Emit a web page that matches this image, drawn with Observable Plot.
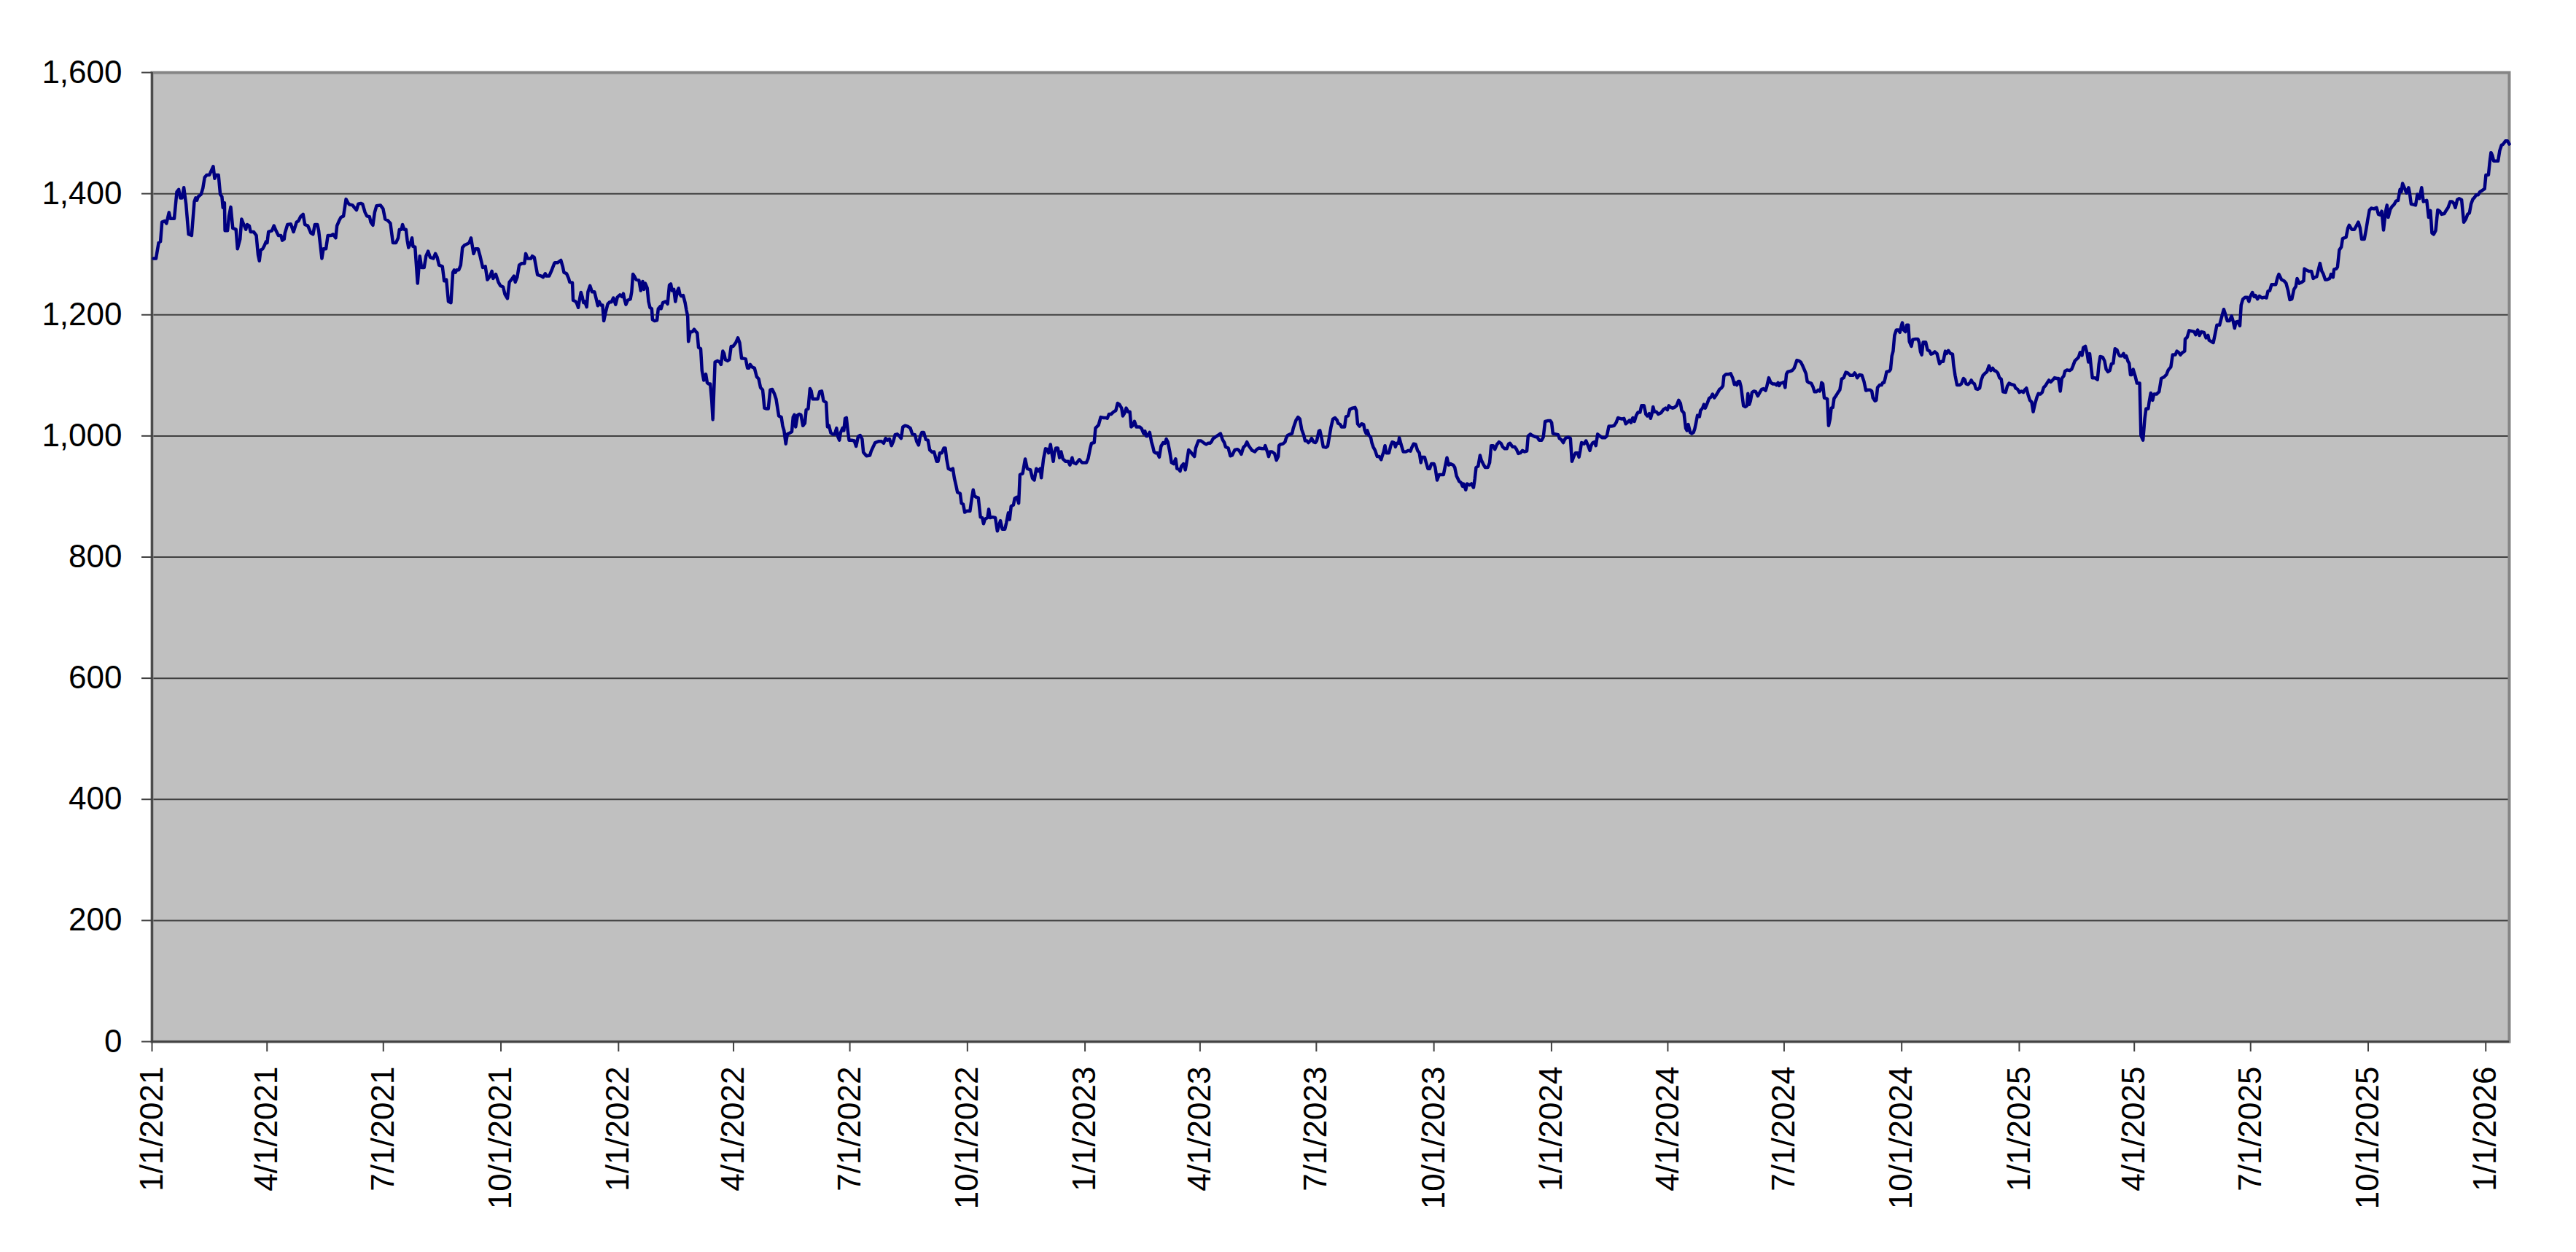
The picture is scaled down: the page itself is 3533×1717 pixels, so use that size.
<!DOCTYPE html>
<html>
<head>
<meta charset="utf-8">
<script src="https://cdn.jsdelivr.net/npm/d3@7"></script>
<script src="https://cdn.jsdelivr.net/npm/@observablehq/plot@0.6"></script>
<style>
  html, body { margin: 0; padding: 0; background: #ffffff; overflow: hidden; }
  #chart svg { display: block; }
</style>
</head>
<body>
<div id="chart"></div>
<script>
// Index level readings: [days since 1/1/2021, value]
const jan2021ToNov2021 = [
[1.1,1293],[3.1,1293],[5.2,1319],[6.6,1321],[7.8,1353],[9.9,1355],[11.3,1351],[13.3,1369],[14.3,1359],[17.4,1359],
[19.4,1403],[20.9,1407],[22.1,1393],[23.5,1393],[24.9,1410],[26.6,1383],[28.6,1333],[31.0,1331],[33.1,1387],[34.1,1393],
[35.1,1389],[36.1,1395],[38.4,1399],[39.8,1409],[41.2,1427],[42.9,1431],[44.9,1431],[47.9,1445],[49,1425],[50,1431],
[52,1431],[53.4,1399],[54.7,1395],[55.5,1377],[56.7,1385],[57.1,1339],[59.1,1339],[60.2,1363],[61.6,1378],[63.2,1343],
[65.7,1341],[66.9,1309],[68.9,1325],[70.1,1358],[71.8,1349],[73.4,1341],[74.4,1349],[76.1,1347],[77.1,1337],[79.5,1337],
[81.6,1331],[83,1299],[84,1289],[85,1307],[86.6,1309],[88.1,1315],[89.3,1321],[90.1,1319],[91.1,1337],[93.8,1339],
[95.4,1347],[97,1339],[98.9,1331],[100.9,1331],[101.9,1323],[103.4,1325],[104,1335],[106,1349],[108.6,1350],[110.7,1337],
[113.1,1353],[114.6,1355],[116.2,1362],[118.2,1366],[119.6,1349],[121.9,1347],[124.3,1335],[126,1333],[127.4,1349],[129.4,1349],
[130.4,1339],[132.9,1293],[134.1,1309],[136.1,1309],[137.6,1331],[140.2,1331],[141.6,1333],[143.7,1327],[144.7,1347],[146.3,1355],
[147.8,1361],[149.8,1363],[151.8,1391],[153.3,1385],[154.5,1382],[156.9,1381],[158.4,1377],[160,1373],[161.4,1383],[163.4,1384],
[164.7,1383],[166.7,1369],[168.1,1363],[170.2,1362],[171.2,1353],[172.8,1348],[174.2,1369],[175.7,1380],[178.7,1381],[180.8,1375],
[182.4,1358],[184.4,1356],[186.5,1351],[188.5,1319],[190.9,1319],[192.6,1327],[193.6,1341],[195.2,1341],[196,1349],[197.3,1341],
[198.7,1341],[199.7,1323],[200.7,1311],[202.1,1317],[203.4,1327],[204.2,1313],[205.8,1312],[207.8,1252],[209.5,1297],[210.9,1278],
[212.9,1278],[214.4,1297],[216,1305],[217.6,1295],[220.1,1293],[221.7,1301],[223.1,1295],[224.6,1282],[227.2,1280],[228.6,1256],
[230.3,1258],[231.9,1222],[233.9,1220],[235.4,1270],[236.4,1274],[237.4,1270],[238.4,1274],[240,1274],[241.5,1282],[242.9,1311],
[244.5,1315],[246.6,1317],[248.2,1319],[249.6,1327],[251.6,1301],[253.1,1309],[255.1,1309],[256.7,1297],[258.8,1278],[260.8,1280],
[262.4,1258],[264.5,1264],[265.9,1272],[266.9,1260],[269,1267],[271,1254],[272.6,1248],[274.7,1246],[276.1,1234],[278.1,1227],
[279.6,1254],[281.2,1258],[283.2,1264],[284.2,1254],[285.7,1262],[287.3,1282],[289.3,1285],[291.4,1285],[292.4,1301],[293.8,1293],
[296.5,1293],[297.5,1297],[299.1,1295],[301.6,1266],[304.6,1264],[306,1262],[307.7,1268],[308.7,1264],[310.7,1264],[312.8,1274],
[314.8,1285]
];
const nov2021ToSep2022 = [
[315.2,1286],[317.2,1286],[319.9,1290],[321.3,1280],[322.3,1270],[324.4,1268],[326,1260],[326.8,1254],[328.9,1253],[329.5,1224],
[331.5,1222],[332.5,1218],[333.5,1212],[334.6,1226],[335.6,1237],[336.6,1230],[337.6,1220],[338.6,1222],[340.1,1213],[341.1,1238],
[342.7,1248],[344.3,1238],[346.2,1238],[347.8,1224],[348.8,1215],[349.8,1222],[351.3,1216],[352.5,1216],[353.5,1190],[354.9,1204],
[356.6,1218],[358,1221],[359.4,1221],[361,1228],[362.7,1217],[364.1,1229],[366.1,1233],[367.6,1230],[368.8,1235],[369.6,1226],
[370.8,1217],[372.2,1224],[374.3,1226],[375.3,1238],[376.3,1267],[377.3,1264],[378.8,1258],[381,1257],[382.4,1240],[383.9,1255],
[384.9,1242],[385.9,1252],[387.5,1244],[388.5,1222],[389.6,1212],[391,1210],[391.6,1192],[393.2,1190],[395.1,1191],[396.1,1210],
[397.7,1214],[398.3,1210],[399.7,1220],[401.8,1222],[403.4,1218],[404.8,1249],[405.9,1251],[406.9,1240],[408.3,1242],[409.5,1222],
[410.9,1238],[412,1244],[413,1234],[414,1231],[415.6,1232],[417.1,1220],[418.1,1208],[419.1,1198],[419.7,1156],[421.1,1172],
[422.8,1172],[424.2,1176],[425.6,1172],[426.6,1170],[427.6,1146],[429.3,1144],[430.3,1108],[431.7,1092],[433.3,1102],[434.4,1088],
[435.4,1086],[436.8,1086],[438,1057],[438.8,1027],[440.5,1122],[442.5,1124],[444.1,1122],[445.2,1118],[446.6,1140],[447.6,1136],
[448.6,1126],[450.3,1124],[451.7,1126],[453.1,1148],[454.7,1148],[456.8,1154],[458.4,1162],[459.8,1154],[461.3,1128],[462.9,1128],
[464.5,1127],[465.9,1112],[467,1112],[468,1118],[469.4,1114],[471.4,1112],[473.1,1098],[474.7,1094],[476.1,1080],[477.8,1076],
[479.2,1046],[480.8,1045],[482.2,1045],[483.7,1076],[485.3,1077],[486.9,1070],[488.3,1061],[490.4,1033],[492.4,1031],[493.4,1017],
[494.5,1009],[495.9,987],[497.1,1003],[499.1,1005],[500.6,1007],[501.6,1031],[502.6,1035],[503.6,1015],[505.1,1034],[506.3,1036],
[507.7,1035],[509.3,1017],[510.8,1021],[511.8,1043],[513.4,1045],[514.8,1078],[515.8,1074],[516.9,1061],[518.9,1061],[520.9,1061],
[522.4,1073],[524,1074],[525.4,1058],[527.5,1055],[528.5,1015],[529.7,1017],[531.1,1005],[532.6,1003],[534.2,1003],[535.6,1013],
[536.6,999],[537.8,993],[538.7,1005],[540.3,1013],[541.3,1009],[542.3,1029],[543.3,1030],[544.4,1009],[545.4,993],[547.4,993],
[549.5,992],[550.9,983],[552.5,999],[554.1,1001],[555.6,995],[556.6,973],[559,967],[561.7,968],[562.7,975],[565.8,989],
[568.4,991],[570.8,991],[572.5,988],[573.9,996],[575.3,993],[577,995],[578.6,984],[580,991],[581.4,1002],[583.1,1003],
[584.7,1000],[586.1,996],[587.5,1015],[589.2,1017],[591.2,1016],[593.3,1013],[594.9,1003],[596.9,1002],[598.3,991],[599.8,985],
[601,999],[602.4,1006],[603.8,1006],[605.5,994],[607.1,993],[608.5,977],[610.6,973]
];
const sep2022ToJul2023 = [
[611.9,974],[613.9,958],[615,958],[616.4,972],[618,972],[619.6,980],[620.7,980],[621.7,962],[623.1,946],[625.1,944],
[626.6,946],[627.8,930],[629.2,917],[630.2,907],[632.3,905],[633.3,889],[634.7,887],[635.9,874],[637.4,876],[640,876],
[641.4,897],[642.5,911],[643.5,901],[644.9,899],[646.5,898],[648.2,866],[649.6,865],[650.6,855],[651.8,863],[653.7,865],
[654.7,879],[655.7,865],[657.7,866],[659.8,865],[661.4,843],[662.8,853],[663.8,860],[665.3,846],[667.3,846],[668.5,857],
[670,873],[671,862],[672.2,884],[674,886],[675,897],[676.7,899],[678.1,889],[679.1,936],[681.2,938],[683.2,962],
[684.8,946],[687.3,944],[688.9,930],[690.3,927],[691.9,946],[693.4,942],[695,946],[695.8,931],[697.5,962],[699.1,979],
[700.5,978],[701.5,972],[703,986],[704,972],[705.2,958],[706,972],[707.2,980],[708.7,980],[710.1,964],[711.3,974],
[712.7,962],[714.8,958],[716.8,958],[718.2,952],[719.9,964],[720.9,956],[722.9,954],[725.6,961],[727.6,956],[731.1,956],
[732.5,963],[734.1,980],[735.1,988],[737.2,989],[738.2,1013],[740.6,1018],[742.3,1031],[744.7,1030],[746.3,1030],[747.4,1029],
[748.8,1036],[750.4,1036],[752.5,1040],[754.1,1042],[755.5,1054],[756.9,1052],[758.6,1046],[759.6,1033],[761,1038],[762.2,1046],
[763.7,1040],[765.1,1040],[766.1,1015],[767.3,1017],[768.7,1024],[770.2,1015],[772.8,1015],[774.3,1012],[775.9,1004],[776.9,1008],
[777.9,1000],[778.9,1000],[780.6,1006],[782,990],[783,983],[784,974],[785.1,972],[786.7,972],[788.1,965],[789.5,983],
[791.2,989],[792.6,988],[793.6,995],[794.8,990],[796.3,974],[797.7,956],[799.3,954],[800.9,962],[802,946],[803.4,945],
[804.4,942],[805.4,950],[807,954],[808.5,944],[809.5,956],[811.1,977],[812.5,974],[814,970],[815.6,966],[816.6,980],
[818.7,992],[820.7,992],[822.7,989],[824.8,986],[826.2,988],[827.8,988],[828.8,990],[830.3,996],[831.9,998],[833.9,1001],
[836,1004],[837.6,994],[839,989],[840,982],[842.1,980],[843.7,967],[845.1,968],[847.2,977],[849.2,978],[850.6,976],
[852.3,970],[853.9,981],[855.3,984],[856.7,990],[858,984],[859.4,980],[860.8,976],[862.9,974],[864.5,978],[866.1,980],
[868.6,979],[870.2,979],[871,984],[872.6,974],[873.7,966],[874.7,974],[876.3,974],[878.3,971],[879.8,960],[881.2,966],
[881.8,984],[882.8,986],[884.9,987],[886.5,990],[887.3,996],[888.5,1001],[890.6,1003],[892,1004],[893,1013],[895.1,1026],
[896.7,1031],[898.1,1028],[899.5,1011],[901.2,1001],[902.2,992],[903.6,992],[904.8,989],[906.2,992],[907.3,996],[908.9,990],
[910.3,989],[911.3,992],[913,1008],[913.8,1009],[915,998],[916.4,982],[918.5,981],[919.9,983],[921.1,998],[922.5,1015],
[924,1028],[925.6,1030],[927.2,1026],[928,1021],[929.7,1019],[930.7,1015]
];
const jul2023ToMay2024 = [
[931.1,1015],[933.1,1015],[934.2,1032],[935.8,1033],[937.2,1044],[939.3,1046],[941.3,1047],[942.3,1042],[943.3,1020],[944.8,1016],
[946.4,1020],[948,1019],[948.8,1010],[950,1004],[950.9,1009],[952.1,1001],[953.5,998],[954.5,988],[955.5,982],[957,976],
[958.6,966],[960.2,966],[961.7,961],[962.7,968],[963.7,974],[964.7,984],[965.7,972],[967.8,972],[969.2,984],[970.4,990],
[971.8,989],[972.9,982],[973.9,988],[975.3,988],[975.9,997],[977.3,986],[979,974],[981,974],[983,976],[984.7,975],
[985.5,980],[987.1,987],[988.7,986],[990.2,976],[991.6,972],[992.8,956],[993.6,965],[995.7,965],[996.9,956],[998.3,946],
[999.7,946],[1001,954],[1003,954],[1004,948],[1005.5,927],[1007.1,936],[1008.7,936],[1010.5,936],[1011.6,948],[1013.2,964],
[1014.6,952],[1016,954],[1018.1,952],[1019.3,948],[1020.7,934],[1022.8,925],[1024.2,923],[1025.4,917],[1026.2,921],[1027.9,911],
[1028.9,921],[1030.9,919],[1032.3,921],[1034,915],[1035,929],[1036,948],[1037.6,950],[1039.1,968],[1040.1,960],[1041.5,954],
[1043.1,948],[1045.2,948],[1046.6,956],[1047.8,984],[1049.3,984],[1050.7,978],[1052.3,986],[1053.9,990],[1055.4,988],[1056.8,982],
[1058.4,979],[1060,979],[1061.5,987],[1062.5,988],[1064.5,982],[1066.2,982],[1067.6,978],[1069,971],[1070.6,972],[1072.3,976],
[1073.7,974],[1075.7,975],[1076.7,1000],[1078.4,1003],[1079.8,1001],[1081.8,999],[1083.9,998],[1085.3,993],[1087.3,993],[1088.6,998],
[1090,1024],[1092,1025],[1094.1,1025],[1095.1,1022],[1096.1,1004],[1098.1,1003],[1100.2,1002],[1101.2,996],[1102.6,994],[1104.2,989],
[1105.3,994],[1106.3,997],[1108.3,998],[1109.8,996],[1111,958],[1112.4,966],[1113.8,972],[1115.5,972],[1116.5,965],[1117.5,976],
[1118.5,989],[1120.5,987],[1122,992],[1123.6,984],[1125,976],[1126,984],[1127.3,989],[1128.7,990],[1129.7,984],[1131.1,1003],
[1132.8,1000],[1134.8,997],[1136.8,997],[1138.3,1000],[1139.9,1016],[1141.9,1016],[1144,1017],[1145.6,1022],[1147,1030],[1148.5,1029],
[1150.1,1028],[1151.7,1029],[1153.1,1020],[1154.6,1023],[1156.2,1026],[1157.2,1022],[1158.6,1030],[1159.9,1024],[1161.3,1034],[1162.7,1039],
[1164.3,1039],[1165.4,1050],[1167.4,1050],[1168.8,1036],[1170,1033],[1171.5,1037],[1172.5,1029],[1173.5,1036],[1174.5,1048],[1175.5,1040],
[1177,1040],[1178.6,1036],[1180.6,1038],[1182.7,1044],[1184.3,1046],[1185.7,1043],[1186.8,1050],[1188.4,1047],[1189.8,1046],[1191.2,1047],
[1192.9,1050],[1194.5,1059],[1195.9,1054],[1196.9,1042],[1198.6,1038],[1200,1013],[1201,1009],[1202,1019],[1203.5,1006],[1204.7,1004],
[1206.1,1006],[1207.1,1012],[1208.1,1022],[1209.2,1034],[1210.8,1032],[1211.6,1042],[1213.2,1046],[1214.2,1052],[1215.3,1046],[1216.9,1054],
[1218.3,1062],[1219.7,1064],[1221,1069],[1222.4,1063],[1223.4,1066],[1225.4,1073],[1226.5,1077],[1227.9,1079],[1229.1,1083],[1229.9,1099],
[1231.6,1102],[1233.6,1102],[1235.2,1103],[1236.7,1096],[1238.1,1085]
];
const may2024ToMar2025 = [
[1239.1,1088],[1240.1,1084],[1241.1,1090],[1242.2,1090],[1243.2,1082],[1244.2,1066],[1245.2,1050],[1246.6,1048],[1247.9,1050],[1248.7,1070],
[1249.7,1052],[1250.7,1058],[1251.9,1072],[1253.4,1074],[1254.8,1073],[1256.4,1066],[1258,1072],[1259.5,1077],[1260.9,1078],[1262.5,1075],
[1263.5,1082],[1265,1096],[1266.6,1088],[1268.2,1086],[1269.7,1086],[1271.1,1084],[1272.3,1088],[1273.1,1083],[1274.3,1087],[1275.8,1088],
[1276.8,1089],[1277.8,1080],[1278.8,1102],[1279.8,1106],[1281.9,1107],[1283.3,1108],[1284.9,1112],[1285.9,1118],[1287,1125],[1288.6,1124],
[1290,1122],[1291.5,1116],[1293.1,1108],[1294.1,1103],[1295.1,1090],[1296.5,1088],[1298.2,1087],[1299.6,1081],[1300.8,1073],[1302.3,1073],
[1303.7,1076],[1304.9,1074],[1305.7,1078],[1306.3,1088],[1307.3,1086],[1308.4,1063],[1309.8,1062],[1310.8,1061],[1311.8,1017],[1313,1028],
[1313.9,1046],[1315.1,1047],[1316.1,1062],[1317.5,1066],[1319.2,1072],[1320.6,1076],[1322,1094],[1323.6,1096],[1325.3,1105],[1326.7,1104],
[1328.7,1100],[1330.8,1100],[1332.2,1104],[1333.4,1100],[1334.2,1096],[1335.9,1101],[1337.9,1100],[1339.5,1090],[1341,1075],[1342.4,1076],
[1344.4,1076],[1345.6,1074],[1346.5,1063],[1348.1,1058],[1349.1,1059],[1350.1,1080],[1351.7,1084],[1353.2,1084],[1354.2,1088],[1355.2,1088],
[1356.2,1096],[1357.2,1106],[1359.3,1107],[1360.3,1110],[1361.3,1132],[1362.3,1140],[1363.4,1166],[1364.8,1175],[1366.4,1175],[1367.6,1171],
[1368.9,1183],[1369.5,1187],[1370.5,1175],[1371.9,1172],[1372.9,1183],[1374.2,1183],[1375,1156],[1376.6,1148],[1377.6,1159],[1379.7,1160],
[1381.7,1160],[1382.7,1154],[1383.7,1139],[1384.7,1134],[1385.8,1155],[1387.8,1155],[1389.2,1142],[1390.9,1140],[1391.9,1135],[1393.3,1136],
[1394.9,1139],[1396.6,1136],[1398.6,1119],[1400,1123],[1401.5,1123],[1403.1,1140],[1404.1,1136],[1405.5,1141],[1407.2,1136],[1408.8,1135],
[1409.6,1117],[1410.8,1100],[1412.3,1084],[1414.3,1084],[1415.7,1086],[1417.3,1095],[1418.4,1093],[1419.4,1086],[1421,1085],[1422.4,1088],
[1423.5,1092],[1424.5,1088],[1425.9,1086],[1427.1,1078],[1428.5,1077],[1430,1079],[1431.2,1092],[1432.6,1100],[1434,1103],[1435.7,1106],
[1437.3,1116],[1438.7,1108],[1440.2,1112],[1441.4,1108],[1442.8,1107],[1444.2,1104],[1445.5,1096],[1446.9,1094],[1448.3,1073],[1450.3,1072],
[1451.6,1082],[1453,1087],[1455,1085],[1457.1,1084],[1458.1,1079],[1459.7,1077],[1461.1,1072],[1462.6,1074],[1464.2,1072],[1465.2,1076],
[1466.6,1079],[1467.9,1068],[1469.3,1059],[1470.7,1056],[1471.9,1040],[1473.4,1054],[1474.8,1064],[1476,1070],[1477.4,1069],[1478.9,1072],
[1480.1,1080],[1481.5,1083],[1482.9,1088],[1484.2,1092],[1485.6,1089],[1487,1092],[1488.6,1096],[1490.3,1095],[1491.7,1095],[1493.1,1074],
[1494.3,1095],[1495.8,1099],[1496.8,1107],[1498.4,1109],[1500.5,1108],[1501.9,1110],[1502.9,1115],[1504.5,1124],[1506,1127],[1507.4,1130],
[1508.6,1138],[1510.1,1133],[1511.1,1146],[1512.7,1148],[1514.1,1136],[1515.1,1122],[1516.1,1136],[1517.2,1114],[1518.2,1096],[1520.2,1096],
[1522.2,1093],[1523.3,1118],[1524.3,1131],[1526.3,1130],[1527.7,1124],[1529,1110],[1530.4,1106],[1531.8,1108],[1533.1,1119],[1534.5,1120],
[1535.9,1144],[1537.5,1142],[1538.5,1136],[1539.6,1132],[1541.2,1132],[1542.6,1136],[1543.6,1130],[1544.7,1132],[1546.1,1123]
];
const mar2025ToJan2026 = [
[1547,1120],[1548,1101],[1549,1101],[1550.1,1110],[1551.7,1099],[1553.1,1087],[1555.2,1087],[1556.2,1001],[1557.8,993],[1559.2,1029],
[1560.2,1045],[1561.9,1045],[1562.7,1057],[1563.9,1071],[1565.3,1059],[1566.4,1069],[1568.4,1069],[1570.4,1073],[1572.1,1095],[1574.1,1097],
[1576.1,1101],[1577.6,1109],[1579.6,1114],[1581,1134],[1583.1,1134],[1584.3,1140],[1585.7,1138],[1587.1,1134],[1588.8,1138],[1590.4,1140],
[1590.8,1160],[1592.4,1163],[1593.9,1174],[1595.9,1173],[1597.9,1172],[1599,1167],[1600.6,1175],[1602,1166],[1603.4,1172],[1605.5,1171],
[1607.1,1162],[1608.7,1166],[1609.5,1158],[1611.2,1156],[1612.8,1154],[1614.2,1168],[1615.6,1183],[1617.7,1183],[1619.3,1196],[1621,1209],
[1622.4,1200],[1623.8,1190],[1625.4,1190],[1627.1,1198],[1628.5,1188],[1629.5,1178],[1630.5,1188],[1632,1189],[1633.6,1182],[1634.6,1216],
[1636,1226],[1637.7,1229],[1639.3,1229],[1640.7,1222],[1641.7,1230],[1643.4,1237],[1644.8,1230],[1645.8,1232],[1647.4,1226],[1648.9,1231],
[1650.9,1228],[1652.9,1229],[1654.4,1228],[1655.6,1239],[1657,1240],[1658.4,1250],[1660,1250],[1661.7,1250],[1663.1,1262],[1664.1,1267],
[1666.2,1258],[1668.2,1256],[1669.8,1252],[1671.3,1240],[1672.7,1225],[1674.3,1226],[1675.9,1242],[1677.4,1247],[1678.4,1260],[1680,1252],
[1682.1,1254],[1683.5,1256],[1684.1,1276],[1685.5,1274],[1687.6,1272],[1689.6,1272],[1691,1260],[1692.2,1262],[1693.7,1263],[1695.1,1275],
[1696.3,1285],[1697.7,1272],[1698.8,1268],[1700.4,1258],[1701.8,1258],[1703.9,1260],[1704.9,1267],[1706.5,1262],[1707.3,1275],[1709,1276],
[1710,1279],[1711.4,1307],[1713,1312],[1714,1326],[1716.7,1328],[1718.1,1343],[1719.1,1348],[1721.2,1341],[1723.2,1341],[1724.8,1347],
[1726.3,1353],[1727.7,1343],[1728.9,1325],[1731,1325],[1732.4,1341],[1733.8,1359],[1735,1373],[1736.4,1376],[1738.5,1375],[1740.5,1377],
[1742,1366],[1743.2,1365],[1744.6,1371],[1746,1340],[1747.6,1370],[1748.7,1381],[1749.7,1361],[1751.3,1374],[1752.7,1379],[1754.2,1382],
[1755.8,1388],[1757.4,1389],[1758.9,1407],[1759.9,1403],[1760.9,1417],[1762.3,1410],[1764,1401],[1765.6,1410],[1766.4,1402],[1767.6,1383],
[1769.6,1382],[1771.1,1381],[1772.5,1399],[1774.1,1392],[1775.8,1410],[1777.2,1387],[1778.6,1388],[1779.8,1389],[1781.3,1361],[1782.7,1372],
[1783.9,1335],[1785.3,1333],[1786.8,1339],[1788.4,1373],[1790,1371],[1791.4,1366],[1793.5,1367],[1794.9,1372],[1796.5,1377],[1798.2,1387],
[1799.6,1387],[1801,1384],[1802.2,1377],[1803.7,1390],[1805.1,1392],[1807.1,1390],[1808.8,1353],[1810.4,1358],[1811.8,1366],[1813.2,1368],
[1814.5,1383],[1815.9,1391],[1817.3,1394],[1818.5,1398],[1820,1398],[1821.4,1403],[1823,1405],[1825.1,1408],[1826.1,1431],[1828.1,1431],
[1829.1,1452],[1830.1,1468],[1831.2,1463],[1832.2,1454],[1834.2,1454],[1835.6,1454],[1836.9,1471],[1838.3,1480],[1839.7,1482],[1841.4,1487],
[1843,1487],[1844.4,1482]
];

const yTicks = [0, 200, 400, 600, 800, 1000, 1200, 1400, 1600];
const xTickLabels = [
  "1/1/2021","4/1/2021","7/1/2021","10/1/2021",
  "1/1/2022","4/1/2022","7/1/2022","10/1/2022",
  "1/1/2023","4/1/2023","7/1/2023","10/1/2023",
  "1/1/2024","4/1/2024","7/1/2024","10/1/2024",
  "1/1/2025","4/1/2025","7/1/2025","10/1/2025",
  "1/1/2026"
];

const startMs = Date.UTC(2021, 0, 1);
const toDate = d => new Date(startMs + d * 864e5);
const parseLabel = s => { const [m, d, y] = s.split("/").map(Number); return new Date(Date.UTC(y, m - 1, d)); };
const fmtLabel = d => `${d.getUTCMonth() + 1}/${d.getUTCDate()}/${d.getUTCFullYear()}`;

const data = [
  ...jan2021ToNov2021, ...nov2021ToSep2022, ...sep2022ToJul2023,
  ...jul2023ToMay2024, ...may2024ToMar2025, ...mar2025ToJan2026
].map(([d, v]) => ({date: toDate(d), value: v}));

const xTicks = xTickLabels.map(parseLabel);
const xDomain = [xTicks[0], data[data.length - 1].date];

const chart = Plot.plot({
  width: 3533,
  height: 1717,
  marginLeft: 208,
  marginRight: 92,
  marginTop: 99,
  marginBottom: 289,
  style: {
    fontFamily: "'Liberation Sans', Arial, sans-serif",
    fontSize: "44px",
    background: "#ffffff",
    color: "#000000",
    overflow: "visible"
  },
  x: {type: "utc", domain: xDomain, label: null},
  y: {domain: [0, 1600], label: null},
  marks: [
    Plot.frame({fill: "#C0C0C0", stroke: "none"}),
    Plot.ruleY(yTicks.filter(v => v > 0 && v < 1600), {stroke: "#404040", strokeWidth: 2}),
    Plot.frame({stroke: "#858585", strokeWidth: 4}),
    Plot.ruleX([xDomain[0]], {stroke: "#404040", strokeWidth: 2.5}),
    Plot.ruleY([0], {stroke: "#404040", strokeWidth: 2.5}),
    Plot.axisY({
      ticks: yTicks,
      tickFormat: d3.format(","),
      tickSize: 14,
      tickPadding: 27,
      fontSize: 44,
      stroke: "#404040",
      strokeWidth: 2,
      label: null
    }),
    Plot.axisX({
      ticks: xTicks,
      tickFormat: fmtLabel,
      tickRotate: -90,
      tickSize: 14,
      tickPadding: 20,
      fontSize: 44,
      stroke: "#404040",
      strokeWidth: 2,
      label: null
    }),
    Plot.line(data, {
      x: "date",
      y: "value",
      stroke: "#000080",
      strokeWidth: 4.5,
      strokeLinejoin: "round",
      strokeLinecap: "round"
    })
  ]
});

document.getElementById("chart").appendChild(chart);
</script>
</body>
</html>
